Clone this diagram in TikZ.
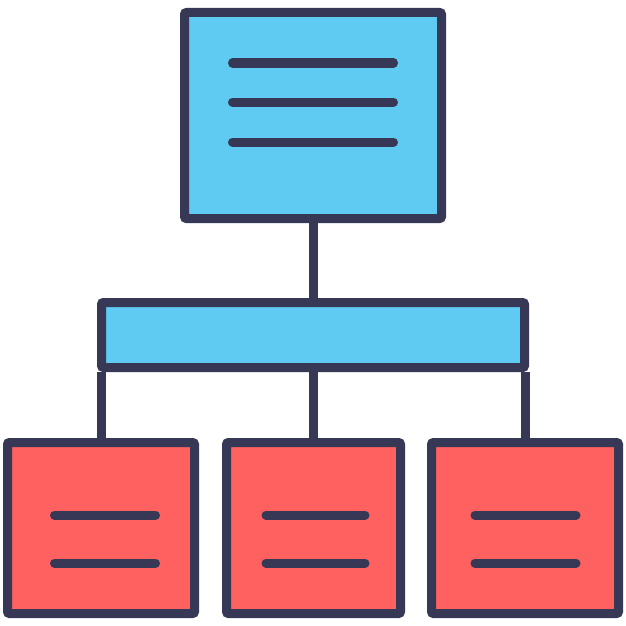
\documentclass[tikz,border=0pt]{standalone}
\usepackage{tikz}
\usepackage{xcolor}
\definecolor{inkdark}{HTML}{363856}
\definecolor{skyblue}{HTML}{5FCBF2}
\definecolor{salmonred}{HTML}{FF6161}
\begin{document}
\begin{tikzpicture}[x=1pt, y=-1pt]
\useasboundingbox (0,0) rectangle (626,626);
\tikzset{card/.style={draw=inkdark, line width=9pt, rounded corners=2pt, inner sep=0pt},
         textline/.style={draw=inkdark, line width=9pt, line cap=round},
         link/.style={draw=inkdark, line width=9pt}}
% Org chart
\node[card, fill=skyblue, minimum width=257pt, minimum height=206pt] (head) at (313,115.5) {};
\node[card, fill=skyblue, minimum width=423pt, minimum height=65pt] (bar) at (313,335) {};
\node[card, fill=salmonred, minimum width=187pt, minimum height=171pt] (left) at (101,528) {};
\node[card, fill=salmonred, minimum width=174pt, minimum height=171pt] (mid) at (313.5,528) {};
\node[card, fill=salmonred, minimum width=187pt, minimum height=171pt] (right) at (525,528) {};
\draw[link] (head.south) -- (bar.north);
\draw[link] (bar.south -| left) -- (left.north);
\draw[link] (bar.south -| mid) -- (mid.north);
\draw[link] (bar.south -| right) -- (right.north);
% text strokes
\draw[textline] (232.5,63) -- (393.5,63);
\draw[textline] (232.5,102) -- (393.5,102);
\draw[textline] (232.5,142) -- (393.5,142);
\draw[textline] (54.5,515) -- (155.5,515);
\draw[textline] (54.5,563) -- (155.5,563);
\draw[textline] (266,515) -- (365,515);
\draw[textline] (266,563) -- (365,563);
\draw[textline] (475,515) -- (576,515);
\draw[textline] (475,563) -- (576,563);
\end{tikzpicture}
\end{document}
